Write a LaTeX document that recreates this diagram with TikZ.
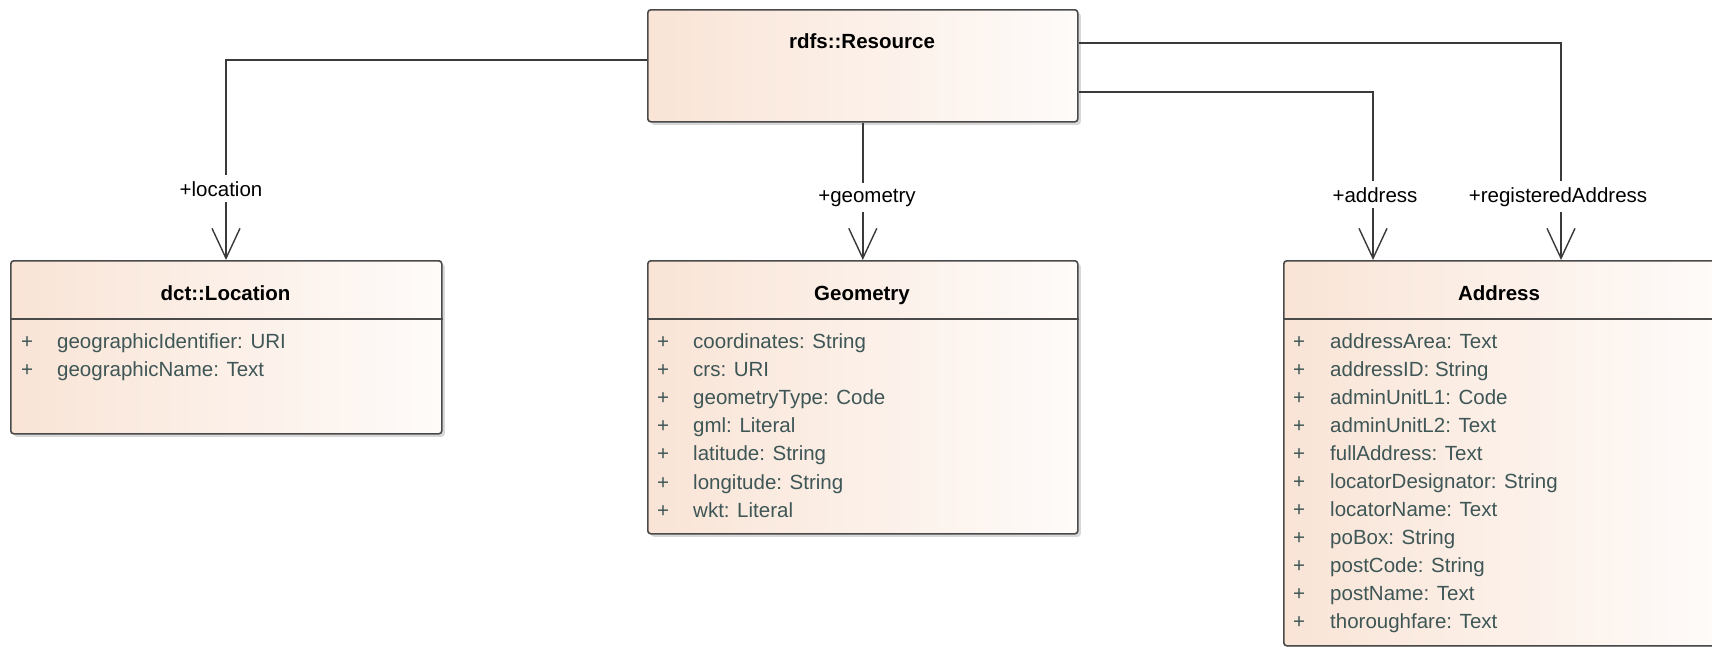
\documentclass[tikz,border=0pt]{standalone}
\usepackage{fontspec}
\setmainfont{Liberation Sans}
\usetikzlibrary{arrows.meta,shadows}
\definecolor{peach}{HTML}{F9E4D6}
\definecolor{paleend}{HTML}{FEFBF9}
\definecolor{frame}{HTML}{4A4A4A}
\definecolor{attrcol}{HTML}{3E5656}
\definecolor{wire}{HTML}{3A3A3A}
\begin{document}
\begin{tikzpicture}[x=1pt,y=-1pt,
  classbox/.style={draw=frame, line width=1.6pt, rounded corners=3pt,
    left color=peach, right color=paleend, anchor=north west, inner sep=0pt,
    drop shadow={shadow xshift=3pt, shadow yshift=-3pt, opacity=0.3, fill=gray}},
  sepline/.style={draw=frame, line width=1.6pt},
  assoc/.style={draw=wire, line width=1.4pt, -{Straight Barb[length=30pt,width=28pt]}},
  lbl/.style={fill=white, anchor=base, inner xsep=1pt, inner ysep=6pt, font=\fontsize{20.5}{24}\selectfont},
  ctitle/.style={anchor=base, inner sep=0pt, font=\fontsize{20.5}{24}\selectfont\bfseries},
  attr/.style={anchor=base west, inner sep=0pt, text=attrcol, font=\fontsize{20.5}{24}\selectfont},
  plus/.style={anchor=base, inner sep=0pt, text=attrcol, font=\fontsize{20.5}{24}\selectfont}]
\useasboundingbox[fill=white] (0,0) rectangle (1712,646);

% class boxes
\node[classbox, minimum width=430pt, minimum height=112pt] (res) at (647,9) {};
\node[classbox, minimum width=431pt, minimum height=173pt] (loc) at (10,260) {};
\node[classbox, minimum width=430pt, minimum height=273pt] (geo) at (647,260) {};
\node[classbox, minimum width=433pt, minimum height=385pt] (adr) at (1283,260) {};

% header separators
\draw[sepline] ([yshift=-59pt]loc.north west) -- ([yshift=-59pt]loc.north east);
\draw[sepline] ([yshift=-59pt]geo.north west) -- ([yshift=-59pt]geo.north east);
\draw[sepline] ([yshift=-59pt]adr.north west) -- ([yshift=-59pt]adr.north east);

% titles
\node[ctitle] (rest) at (862,48) {rdfs::Resource};
\node[ctitle] (loct) at (225.5,300) {dct::Location};
\node[ctitle] (geot) at (862,300) {Geometry};
\node[ctitle] (adrt) at (1499,300) {Address};

% attributes
\foreach \t [count=\i] in {geographicIdentifier: URI, geographicName: Text} {
  \node[plus] (locp\i) at (27,{348+28*(\i-1)}) {+};
  \node[attr] (loca\i) at (57,{348+28*(\i-1)}) {\t};
}
\foreach \t [count=\i] in {coordinates: String, crs: URI, geometryType: Code, gml: Literal, latitude: String, longitude: String, wkt: Literal} {
  \node[plus] (geop\i) at (663,{348+28.2*(\i-1)}) {+};
  \node[attr] (geoa\i) at (693,{348+28.2*(\i-1)}) {\t};
}
\foreach \t [count=\i] in {addressArea: Text, addressID: String, adminUnitL1: Code, adminUnitL2: Text, fullAddress: Text, locatorDesignator: String, locatorName: Text, poBox: String, postCode: String, postName: Text, thoroughfare: Text} {
  \node[plus] (adrp\i) at (1299,{348+28*(\i-1)}) {+};
  \node[attr] (adra\i) at (1330,{348+28*(\i-1)}) {\t};
}

% associations
\draw[assoc] ([yshift=-51pt]res.north west) -| ([xshift=216pt]loc.north west);
\draw[assoc] (res.south) -- (geo.north);
\draw[assoc] ([yshift=-83pt]res.north east) -| ([xshift=90pt]adr.north west);
\draw[assoc] ([yshift=-34pt]res.north east) -| ([xshift=278pt]adr.north west);

% role labels
\node[lbl] (lloc) at (221,196) {+location};
\node[lbl] (lgeo) at (867,202) {+geometry};
\node[lbl] (ladr) at (1375,202) {+address};
\node[lbl] (lreg) at (1558,202) {+registeredAddress};
\end{tikzpicture}
\end{document}
